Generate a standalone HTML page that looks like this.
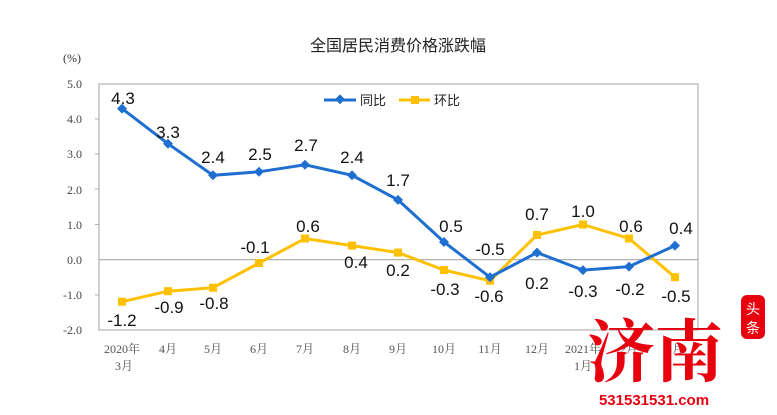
<!DOCTYPE html>
<html><head><meta charset="utf-8"><style>
body{margin:0;background:#fff;}
svg{display:block;}
</style></head><body>
<svg width="777" height="415" xmlns="http://www.w3.org/2000/svg">
<rect width="777" height="415" fill="#fff"/>
<text x="398" y="51" text-anchor="middle" font-family="Liberation Sans, Noto Sans CJK SC, sans-serif" font-size="16" fill="#222">全国居民消费价格涨跌幅</text>
<text x="72" y="62" text-anchor="middle" font-family="Liberation Serif, Noto Serif CJK SC, serif" font-size="12" fill="#333">(%)</text>
<rect x="99" y="84" width="599" height="246" fill="none" stroke="#b0b0b0" stroke-width="1.2"/>
<line x1="99" y1="259.6" x2="698" y2="259.6" stroke="#b0b0b0" stroke-width="1.2"/>
<g font-family="Liberation Serif, serif" font-size="12" fill="#444" text-anchor="end">
<text x="82" y="88">5.0</text><text x="82" y="123">4.0</text><text x="82" y="158">3.0</text><text x="82" y="194">2.0</text><text x="82" y="229">1.0</text><text x="82" y="264">0.0</text><text x="82" y="299">-1.0</text><text x="82" y="334">-2.0</text>
</g>
<g stroke="#b0b0b0" stroke-width="1">
<line x1="95" y1="119" x2="99" y2="119"/><line x1="95" y1="154" x2="99" y2="154"/><line x1="95" y1="189" x2="99" y2="189"/><line x1="95" y1="224.5" x2="99" y2="224.5"/><line x1="95" y1="295" x2="99" y2="295"/>
</g>
<g font-family="Liberation Serif, Noto Serif CJK SC, serif" font-size="12" fill="#555" text-anchor="middle">
<text x="122" y="353">2020年</text><text x="124" y="370">3月</text>
<text x="168" y="353">4月</text><text x="213" y="353">5月</text><text x="259" y="353">6月</text><text x="305" y="353">7月</text><text x="352" y="353">8月</text><text x="398" y="353">9月</text><text x="444" y="353">10月</text><text x="490" y="353">11月</text><text x="537" y="353">12月</text><text x="583" y="353">2021年</text><text x="583" y="370">1月</text><text x="629" y="353">2月</text><text x="675" y="353">3月</text>
</g>
<line x1="324" y1="100" x2="356" y2="100" stroke="#1f6fd0" stroke-width="3"/>
<rect x="336" y="96" width="7" height="7" fill="#1f6fd0" transform="rotate(45 340 100)"/>
<text x="360" y="105" font-family="Liberation Sans, Noto Sans CJK SC, sans-serif" font-size="13" fill="#222">同比</text>
<line x1="399" y1="100" x2="430" y2="100" stroke="#ffc000" stroke-width="3"/>
<rect x="411" y="96" width="8" height="8" fill="#ffc000"/>
<text x="434" y="105" font-family="Liberation Sans, Noto Sans CJK SC, sans-serif" font-size="13" fill="#222">环比</text>
<polyline fill="none" stroke="#ffc000" stroke-width="3" points="122,301.7 168,291.2 213,287.7 259,263.1 305,238.5 352,245.6 398,252.6 444,270.1 490,280.7 537,235 583,224.5 629,238.5 675,277.2"/>
<g fill="#ffc000">
<rect x="118" y="297.7" width="8" height="8"/><rect x="164" y="287.2" width="8" height="8"/><rect x="209" y="283.7" width="8" height="8"/><rect x="255" y="259.1" width="8" height="8"/><rect x="301" y="234.5" width="8" height="8"/><rect x="348" y="241.6" width="8" height="8"/><rect x="394" y="248.6" width="8" height="8"/><rect x="440" y="266.1" width="8" height="8"/><rect x="486" y="276.7" width="8" height="8"/><rect x="533" y="231" width="8" height="8"/><rect x="579" y="220.5" width="8" height="8"/><rect x="625" y="234.5" width="8" height="8"/><rect x="671" y="273.2" width="8" height="8"/>
</g>
<polyline fill="none" stroke="#1f6fd0" stroke-width="3" points="122,108.6 168,143.7 213,175.3 259,171.8 305,164.8 352,175.3 398,199.9 444,242 490,277.2 537,252.6 583,270.1 629,266.6 675,245.6"/>
<g fill="#1f6fd0">
<path d="M122 103.6l5 5-5 5-5-5z"/><path d="M168 138.7l5 5-5 5-5-5z"/><path d="M213 170.3l5 5-5 5-5-5z"/><path d="M259 166.8l5 5-5 5-5-5z"/><path d="M305 159.8l5 5-5 5-5-5z"/><path d="M352 170.3l5 5-5 5-5-5z"/><path d="M398 194.9l5 5-5 5-5-5z"/><path d="M444 237l5 5-5 5-5-5z"/><path d="M490 272.2l5 5-5 5-5-5z"/><path d="M537 247.6l5 5-5 5-5-5z"/><path d="M583 265.1l5 5-5 5-5-5z"/><path d="M629 261.6l5 5-5 5-5-5z"/><path d="M675 240.6l5 5-5 5-5-5z"/>
</g>
<g font-family="Liberation Sans, sans-serif" font-size="17" fill="#111" text-anchor="middle">
<text x="123" y="104">4.3</text><text x="168" y="138">3.3</text><text x="213" y="163">2.4</text><text x="260" y="160">2.5</text><text x="306" y="151">2.7</text><text x="352" y="163">2.4</text><text x="398" y="186">1.7</text><text x="451" y="232">0.5</text><text x="490" y="255">-0.5</text><text x="537" y="289">0.2</text><text x="583" y="297">-0.3</text><text x="630" y="295">-0.2</text><text x="681" y="234">0.4</text>
<text x="122" y="326">-1.2</text><text x="169" y="313">-0.9</text><text x="214" y="309">-0.8</text><text x="255" y="253">-0.1</text><text x="308" y="232">0.6</text><text x="356" y="268">0.4</text><text x="398" y="276">0.2</text><text x="445" y="295">-0.3</text><text x="489" y="302">-0.6</text><text x="537" y="220">0.7</text><text x="583" y="217">1.0</text><text x="631" y="232">0.6</text><text x="676" y="302">-0.5</text>
</g>
<text x="655" y="376" text-anchor="middle" font-family="Noto Serif CJK SC, serif" font-weight="bold" font-size="68" fill="#e8000f">济南</text>
<rect x="741" y="295" width="24" height="44" rx="6" fill="#e8000f"/>
<text x="753" y="314" text-anchor="middle" font-family="Noto Sans CJK SC, sans-serif" font-size="14" fill="#fff">头</text>
<text x="753" y="333" text-anchor="middle" font-family="Noto Sans CJK SC, sans-serif" font-size="14" fill="#fff">条</text>
<text x="654" y="405" text-anchor="middle" font-family="Liberation Sans, sans-serif" font-weight="bold" font-size="15" fill="#e8000f">531531531.com</text>
</svg>
</body></html>
